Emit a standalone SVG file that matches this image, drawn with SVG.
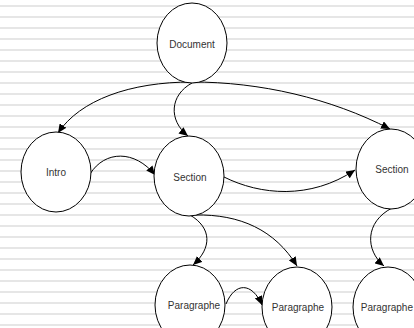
<svg xmlns="http://www.w3.org/2000/svg" width="414" height="328" viewBox="0 0 414 328">
<style>
.node ellipse{fill:#ffffff;stroke:#000000;stroke-width:1}
.node text{font-family:"Liberation Sans",Arial,sans-serif;font-size:10px;fill:#333333;text-anchor:middle;dominant-baseline:central}
.edge{fill:none;stroke:#000000;stroke-width:1;marker-end:url(#arrow)}
</style>
<defs>
<pattern id="stripes" patternUnits="userSpaceOnUse" x="0" y="0" width="414" height="11">
<rect x="0" y="5" width="414" height="2" fill="#e6e6e6"/>
</pattern>
<marker id="arrow" markerUnits="userSpaceOnUse" markerWidth="10" markerHeight="8" refX="9" refY="4" orient="auto">
<path d="M0,0 L9,4 L0,8 z" fill="#000000"/>
</marker>
</defs>
<rect x="0" y="0" width="414" height="328" fill="#ffffff"/>
<rect x="0" y="0" width="414" height="328" fill="url(#stripes)"/>
<g id="connectors">
<path class="edge" d="M192,82 C130,82 80,100 58,133"/>
<path class="edge" d="M192,82 C260,82 330,98 390,129"/>
<path class="edge" d="M192,83 C170,95 168,120 188,136"/>
<path class="edge" d="M90,174 C105,150 135,150 155,175"/>
<path class="edge" d="M224,177 C260,195 310,200 355,170"/>
<path class="edge" d="M190,215 C212,228 212,248 193,265"/>
<path class="edge" d="M195,215 C240,214 275,230 297,266"/>
<path class="edge" d="M392,208 C365,222 365,250 384,266"/>
<path class="edge" d="M226,304 C235,282 252,282 262,305"/>
</g>
<g id="node-document" class="node"><ellipse cx="192" cy="43" rx="35" ry="40"/><text x="192" y="44">Document</text></g>
<g id="node-intro" class="node"><ellipse cx="56" cy="172" rx="35" ry="40"/><text x="56" y="172">Intro</text></g>
<g id="node-section1" class="node"><ellipse cx="189" cy="176" rx="35" ry="40"/><text x="190" y="177">Section</text></g>
<g id="node-section2" class="node"><ellipse cx="391" cy="169" rx="35" ry="40"/><text x="392" y="169">Section</text></g>
<g id="node-para1" class="node"><ellipse cx="190" cy="305" rx="35" ry="40"/><text x="194" y="305">Paragraphe</text></g>
<g id="node-para2" class="node"><ellipse cx="297" cy="307" rx="35" ry="40"/><text x="298" y="307">Paragraphe</text></g>
<g id="node-para3" class="node"><ellipse cx="388" cy="307" rx="35" ry="40"/><text x="413" y="307" style="text-anchor:end">Paragraphe</text></g>
</svg>
